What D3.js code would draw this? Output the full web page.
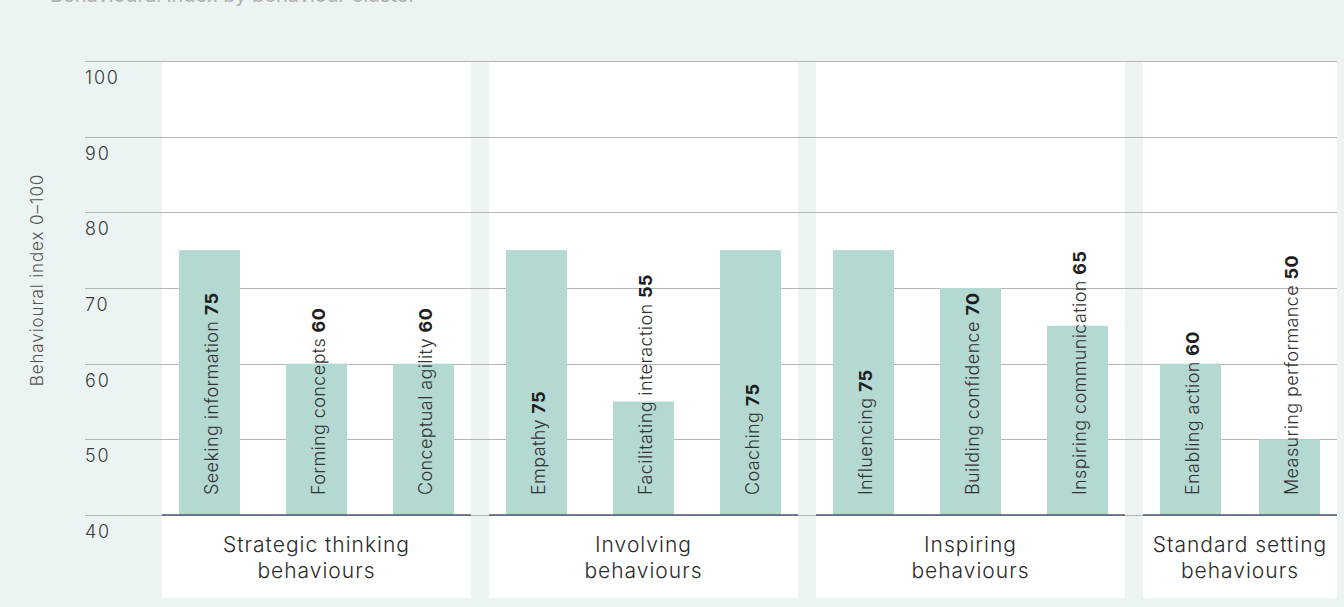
<html>
	<head>
		<title>Behavioural index</title>
		<script src="https://d3js.org/d3.v7.min.js"></script>
		<style>
			body{margin:0;background:#ebf4f2;}
			text{font-family:Inter, "Noto Sans", sans-serif;}
			.background{fill:#ebf4f2;}
			.panel{fill:#ffffff;}
			.grid line{stroke:#b5b5b5;stroke-width:1;}
			.baseline{stroke:#4b5b6b;stroke-width:1.5;}
			.bar{fill:#b4d8d2;}
			.tick-label{font-size:18px;fill:#3a3a3a;letter-spacing:1.8px;font-weight:300;}
			.ytitle{font-size:17px;fill:#555;letter-spacing:0.9px;font-weight:300;}
			.group-label{font-size:21px;fill:#2a2a2a;letter-spacing:1px;font-weight:300;}
			.bar-label{font-size:18px;fill:#333;letter-spacing:0.4px;font-weight:300;}
			.bar-label .val{font-weight:700;fill:#1e1e1e;letter-spacing:0.4px;}
			.title{font-size:20px;fill:#b0b0b0;}
		</style>
	</head>
	<body>
		<script>

		//chart data
		const groups = ["Strategic thinking behaviours","Involving behaviours","Inspiring behaviours","Standard setting behaviours"];
		const groupLines = [["Strategic thinking","behaviours"],["Involving","behaviours"],["Inspiring","behaviours"],["Standard setting","behaviours"]];
		const categories = ["Seeking information","Forming concepts","Conceptual agility","Empathy","Facilitating interaction","Coaching","Influencing","Building confidence","Inspiring communication","Enabling action","Measuring performance"];
		const categoryGroup = [0,0,0,1,1,1,2,2,2,3,3];
		const values = [75,60,60,75,55,75,75,70,65,60,50];
		const yTicks = [40,50,60,70,80,90,100];

		//layout
		const w = 1344;
		const h = 607;
		const plotLeft = 85;
		const plotRight = 1337;
		const panelBottom = 598;
		const barW = 61;
		const barPad = 17;

		let yScale = d3.scaleLinear()
			.domain([40,100])
			.range([515,61]);

		//group panels, the last one is cut by the plot edge
		let xGroup = d3.scaleBand()
			.domain(groups)
			.range([162,1452])
			.paddingInner(18/327);

		function panelX(g){ return xGroup(g); }
		function panelW(g){ return Math.min(xGroup.bandwidth(), plotRight-xGroup(g)); }

		let svg = d3.select("body").append("svg")
			.attr("width",w)
			.attr("height",h)
			.style("display","block");

		svg.append("rect")
			.attr("class","background")
			.attr("width",w)
			.attr("height",h);

		//title, mostly above the visible area
		svg.append("text")
			.attr("class","title")
			.attr("x",50)
			.attr("y",2)
			.text("Behavioural index by behaviour cluster");

		svg.append("g").selectAll("rect")
			.data(groups)
			.enter()
			.append("rect")
			.attr("class","panel")
			.attr("x",panelX)
			.attr("y",yScale(100))
			.attr("width",panelW)
			.attr("height",panelBottom-yScale(100));

		//gridlines + tick labels
		const grid = svg.append("g").attr("class","grid");
		grid.selectAll("line")
			.data(yTicks)
			.enter()
			.append("line")
			.attr("x1",plotLeft)
			.attr("x2",plotRight)
			.attr("y1",function(d){return Math.round(yScale(d))+0.5})
			.attr("y2",function(d){return Math.round(yScale(d))+0.5});

		svg.append("g").selectAll("text")
			.data(yTicks)
			.enter()
			.append("text")
			.attr("class","tick-label")
			.attr("x",plotLeft)
			.attr("y",function(d){return yScale(d)+23})
			.text(function(d){return d});

		svg.append("text")
			.attr("class","ytitle")
			.attr("text-anchor","middle")
			.attr("transform","translate(37,280) rotate(-90)")
			.attr("dominant-baseline","central")
			.text("Behavioural index 0\u2013100");

		//bars
		const mydata = categories.map(function(c,i){
			return {name:c,value:values[i],group:groups[categoryGroup[i]]};
		});

		const inner = {};
		groups.forEach(function(g){
			const cats = mydata.filter(function(d){return d.group==g}).map(function(d){return d.name});
			inner[g] = d3.scalePoint()
				.domain(cats)
				.range([barPad+barW/2, panelW(g)-barPad-barW/2]);
		});

		function barCenter(d){ return panelX(d.group)+inner[d.group](d.name); }

		svg.append("g").selectAll("rect")
			.data(mydata)
			.enter()
			.append("rect")
			.attr("class","bar")
			.attr("x",function(d){return barCenter(d)-barW/2})
			.attr("width",barW)
			.attr("y",function(d){return yScale(d.value)})
			.attr("height",function(d){return yScale(40)-yScale(d.value)});

		//dark baseline on each panel
		svg.append("g").selectAll("line")
			.data(groups)
			.enter()
			.append("line")
			.attr("class","baseline")
			.attr("x1",panelX)
			.attr("x2",function(g){return panelX(g)+panelW(g)})
			.attr("y1",yScale(40))
			.attr("y2",yScale(40));

		//rotated labels
		const labels = svg.append("g").selectAll("text")
			.data(mydata)
			.enter()
			.append("text")
			.attr("class","bar-label")
			.attr("transform",function(d){return "translate("+(barCenter(d)+1)+",495) rotate(-90)"})
			.attr("dominant-baseline","central");
		labels.append("tspan").text(function(d){return d.name+" "});
		labels.append("tspan").attr("class","val").text(function(d){return d.value});

		//group labels
		const gl = svg.append("g").selectAll("text")
			.data(groups)
			.enter()
			.append("text")
			.attr("class","group-label")
			.attr("text-anchor","middle")
			.attr("x",function(g){return panelX(g)+panelW(g)/2})
			.attr("y",552);
		gl.selectAll("tspan")
			.data(function(g,i){return groupLines[i]})
			.enter()
			.append("tspan")
			.attr("x",function(){return d3.select(this.parentNode).attr("x")})
			.attr("dy",function(d,i){return i==0?0:26})
			.text(function(d){return d});

		</script>
	</body>
</html>
